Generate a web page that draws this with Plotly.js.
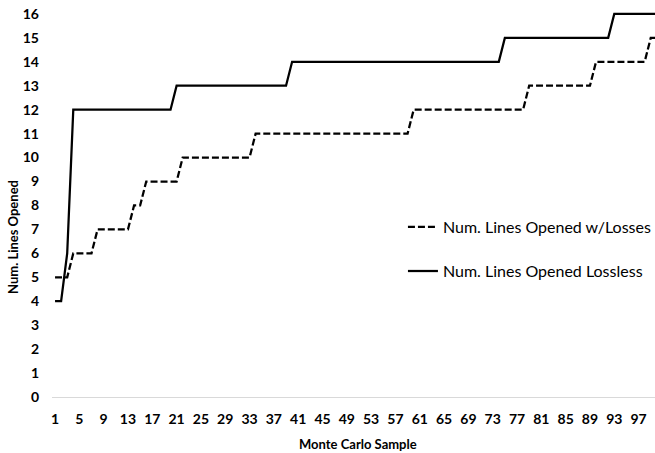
<!DOCTYPE html>
<html>
<head>
<meta charset="utf-8">
<script src="https://cdn.plot.ly/plotly-3.0.1.min.js"></script>
<style>html,body{margin:0;padding:0;background:#fff;}#chart{width:655px;height:453px;overflow:hidden;}</style>
</head>
<body>
<div id="chart"></div>
<script>
var samples = [1,2,3,4,5,6,7,8,9,10,11,12,13,14,15,16,17,18,19,20,
  21,22,23,24,25,26,27,28,29,30,31,32,33,34,35,36,37,38,39,40,
  41,42,43,44,45,46,47,48,49,50,51,52,53,54,55,56,57,58,59,60,
  61,62,63,64,65,66,67,68,69,70,71,72,73,74,75,76,77,78,79,80,
  81,82,83,84,85,86,87,88,89,90,91,92,93,94,95,96,97,98,99,100];

var withLosses = [5,5,5,6,6,6,6,7,7,7,7,7,7,8,8,9,9,9,9,9,
  9,10,10,10,10,10,10,10,10,10,10,10,10,11,11,11,11,11,11,11,
  11,11,11,11,11,11,11,11,11,11,11,11,11,11,11,11,11,11,11,12,
  12,12,12,12,12,12,12,12,12,12,12,12,12,12,12,12,12,12,13,13,
  13,13,13,13,13,13,13,13,13,14,14,14,14,14,14,14,14,14,15,15];

var lossless = [4,4,6,12,12,12,12,12,12,12,12,12,12,12,12,12,12,12,12,12,
  13,13,13,13,13,13,13,13,13,13,13,13,13,13,13,13,13,13,13,14,
  14,14,14,14,14,14,14,14,14,14,14,14,14,14,14,14,14,14,14,14,
  14,14,14,14,14,14,14,14,14,14,14,14,14,14,15,15,15,15,15,15,
  15,15,15,15,15,15,15,15,15,15,15,15,16,16,16,16,16,16,16,16];

var xTickVals = [1,5,9,13,17,21,25,29,33,37,41,45,49,53,57,61,65,69,73,77,81,85,89,93,97];
var yTickVals = [0,1,2,3,4,5,6,7,8,9,10,11,12,13,14,15,16];

var seriesNames = ['Num. Lines Opened w/Losses', 'Num. Lines Opened Lossless'];

var traces = [
  {x: samples, y: withLosses, type: 'scatter', mode: 'lines', name: seriesNames[0],
   line: {color: '#000000', width: 2.25, dash: '7px,3px'}, legend: 'legend'},
  {x: samples, y: lossless, type: 'scatter', mode: 'lines', name: seriesNames[1],
   line: {color: '#000000', width: 2.25}, legend: 'legend2'}
];

var fam = 'Lato, "Open Sans", sans-serif';
var tickFont = {family: fam, size: 14, color: '#000000', weight: 'bold'};
var legFont = {family: fam, size: 16, color: '#000000'};

var layout = {
  width: 655, height: 453,
  margin: {l: 52, r: 0, t: 12, b: 56, pad: 0, autoexpand: false},
  paper_bgcolor: '#ffffff', plot_bgcolor: '#ffffff',
  showlegend: true,
  xaxis: {
    range: [0.5, 99.7], tickmode: 'array', tickvals: xTickVals, ticktext: xTickVals.map(String),
    showgrid: false, zeroline: false, showline: true, linecolor: '#d9d9d9', linewidth: 1,
    ticks: '', tickfont: tickFont, ticklabelstandoff: 9, fixedrange: true, automargin: false
  },
  yaxis: {
    range: [0, 16.08], tickmode: 'array', tickvals: yTickVals, ticktext: yTickVals.map(String),
    showgrid: false, zeroline: false, showline: false,
    ticks: '', tickfont: tickFont, ticklabelstandoff: 12, fixedrange: true, automargin: false
  },
  legend: {x: 0.582, xanchor: 'left', y: 0.4416, yanchor: 'middle', bgcolor: 'rgba(0,0,0,0)', font: legFont},
  legend2: {x: 0.582, xanchor: 'left', y: 0.327, yanchor: 'middle', bgcolor: 'rgba(0,0,0,0)', font: legFont},
  annotations: [
    {text: 'Num. Lines Opened', xref: 'paper', yref: 'paper', x: -0.0647, y: 0.4156,
     xanchor: 'center', yanchor: 'middle', textangle: -90, showarrow: false,
     font: {family: fam, size: 13, color: '#000000', weight: 'bold'}},
    {text: 'Monte Carlo Sample', xref: 'paper', yref: 'paper', x: 0.5075, y: -0.122,
     xanchor: 'center', yanchor: 'middle', showarrow: false,
     font: {family: fam, size: 13, color: '#000000', weight: 'bold'}}
  ]
};

Plotly.newPlot('chart', traces, layout, {displayModeBar: false, staticPlot: true});
</script>
</body>
</html>
